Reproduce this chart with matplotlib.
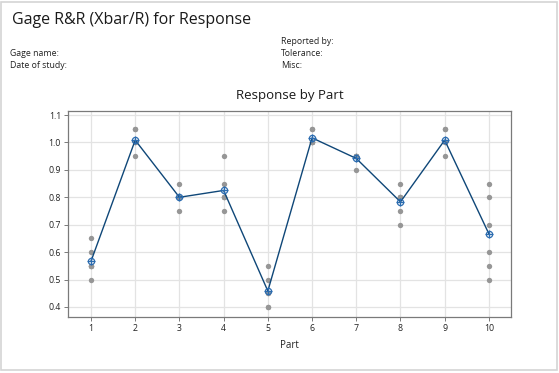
import numpy as np
import matplotlib.pyplot as plt
from matplotlib.patches import Rectangle

plt.rcParams['font.family'] = ['Open Sans', 'DejaVu Sans']

## Data ~~~~~~~~~~~~~~~~~~~~~~~~~~~~~~~~~~~~~~~~~~~~~~~~~~~~~~~~~~~~~~~~~~~~~~~~~
parts = [1, 2, 3, 4, 5, 6, 7, 8, 9, 10]
response = [
    [0.65, 0.60, 0.55, 0.55, 0.50, 0.55],
    [1.05, 1.00, 1.00, 1.00, 0.95, 1.05],
    [0.85, 0.80, 0.80, 0.75, 0.80, 0.80],
    [0.95, 0.85, 0.80, 0.75, 0.80, 0.80],
    [0.55, 0.50, 0.45, 0.40, 0.45, 0.40],
    [1.05, 1.00, 1.00, 1.00, 1.05, 1.00],
    [0.95, 0.95, 0.95, 0.95, 0.95, 0.90],
    [0.85, 0.80, 0.80, 0.75, 0.70, 0.80],
    [1.05, 1.00, 1.00, 0.95, 1.00, 1.05],
    [0.85, 0.80, 0.70, 0.60, 0.55, 0.50],
]
yticks = [0.4, 0.5, 0.6, 0.7, 0.8, 0.9, 1.0, 1.1]

W, H = 559, 373
fig = plt.figure(figsize=(W/100, H/100), dpi=100)

# light frame around the whole graph
fig.patches.append(Rectangle((1/W, 3/H), 556/W, 368/H, transform=fig.transFigure,
                             fill=False, edgecolor='#d4d4d4', linewidth=1.2))

# header text
fig.text(12/W, 1 - 20/H, 'Gage R&R (Xbar/R) for Response', fontsize=11.5,
         va='center', ha='left', color='#1a1a1a')
fig.text(10/W, 1 - 53/H, 'Gage name:', fontsize=6.3, va='center', color='#222222')
fig.text(10/W, 1 - 65/H, 'Date of study:', fontsize=6.3, va='center', color='#222222')
fig.text(281/W, 1 - 41/H, 'Reported by:', fontsize=6.3, va='center', color='#222222')
fig.text(281/W, 1 - 53/H, 'Tolerance:', fontsize=6.3, va='center', color='#222222')
fig.text(281/W, 1 - 65/H, 'Misc:', fontsize=6.3, va='center', color='#222222')

ax = fig.add_axes([68/W, 1 - 317/H, (511 - 68)/W, (317 - 111)/H])
fig.text(290/W, 1 - 96/H, 'Response by Part', fontsize=9.5, ha='center', va='center',
         color='#1a1a1a')

# individual observations
for p, vals in zip(parts, response):
    ax.scatter([p]*len(vals), vals, s=15, color='#969696', zorder=3, linewidths=0)

# part means
means = [np.mean(v) for v in response]
ax.plot(parts, means, color='#0f4778', linewidth=1.0, zorder=4)
ax.plot(parts, means, 'o', markersize=4.5, markerfacecolor='none',
        markeredgecolor='#2b6cb0', markeredgewidth=0.9, zorder=5)
ax.plot(parts, means, '+', markersize=5.5, color='#2b6cb0', markeredgewidth=0.9, zorder=5)

ax.set_xlim(0.48, 10.5)
ax.set_ylim(0.3635, 1.1146)
ax.set_xticks(parts)
ax.set_yticks(yticks)
ax.set_yticklabels([f'{v:.1f}' for v in yticks])
ax.grid(True, color='#e3e3e3', linewidth=0.9)
ax.set_axisbelow(True)
for s in ax.spines.values():
    s.set_color('#7a7a7a')
    s.set_linewidth(0.9)
ax.tick_params(labelsize=6.3, length=3, width=0.7, color='#7a7a7a',
               labelcolor='#222222', pad=2)
ax.set_xlabel('Part', fontsize=7, color='#222222', labelpad=5)

fig.savefig('out.png', dpi=100)
